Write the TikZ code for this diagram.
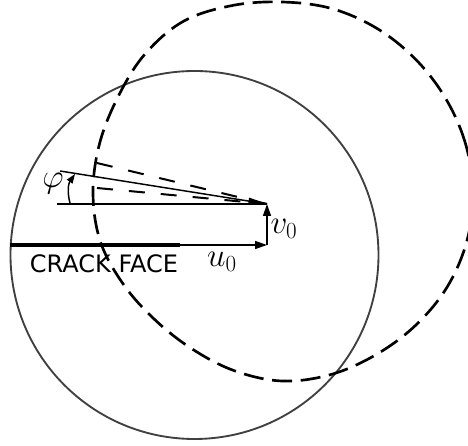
\documentclass[tikz,border=0pt]{standalone}
\usepackage{fontspec}
\setsansfont{DejaVu Sans}
\usetikzlibrary{arrows.meta}

\begin{document}
\begin{tikzpicture}[x=0.75pt, y=0.75pt,
  contour/.style={draw=black!75, line width=1.4pt},
  moved/.style={draw=black, line width=2pt, dash pattern=on 15pt off 6.5pt},
  ray/.style={line width=1.1pt},
  dray/.style={line width=1.5pt, dash pattern=on 12pt off 12pt},
  vec/.style={-{Triangle[length=9pt, width=6pt]}, line width=1.1pt},
  crack/.style={line width=3pt},
  lbl/.style={font=\fontsize{25}{28}\selectfont, inner sep=0pt},
]
  \useasboundingbox (0,0) rectangle (468,446);

  % initial and displaced contours
  \begin{scope}
    \clip (0,0) rectangle (468,446);
    \draw[contour] (194.5,191) circle (138pt);
    \begin{scope}[shift={(282,253)}]
      \draw[moved] plot[smooth cycle, tension=0.6] coordinates {
        (0:191) (15:190) (30:189) (45:189) (60:190) (75:191)
        (90:191) (105:194) (120:198) (135:195) (150:190) (165:189)
        (180:189) (195:188) (210:183) (225:179.5) (240:180) (255:184)
        (270:188) (285:188) (300:187) (315:188) (330:190) (345:191)};
    \end{scope}
  \end{scope}

  % points
  \coordinate (tip) at (267,242);
  \coordinate (base) at (57,242);
  \coordinate (slant) at (60,275);
  \coordinate (up) at (97,283);
  \coordinate (lo) at (97,258);
  \coordinate (corner) at (267,201);
  \coordinate (crackL) at (10,201);
  \coordinate (crackR) at (180,201);
  \coordinate (phiA) at (70,243);
  \coordinate (phiB) at (75,272);

  % rays from the tip
  \draw[ray] (base) -- (tip);
  \draw[dray] (up) -- (tip);
  \draw[dray] (lo) -- (tip);
  \draw[ray, -{Triangle[length=14pt, width=5pt]}] (slant) -- (tip);
  \draw[ray, -{Triangle[length=7pt, width=5pt]}] (phiA) to[bend left=25] (phiB);

  % crack and displacement vectors
  \draw[crack] (crackL) -- (crackR);
  \draw[vec] (crackR) -- (corner);
  \draw[vec] (corner) -- (tip);

  % labels
  \node[lbl] (phi) at (53,262) {$\varphi$};
  \node[lbl] (v0) at (284,217) {$v_0$};
  \node[lbl] (u0) at (222,184) {$u_0$};
  \node[font=\sffamily\fontsize{18}{20}\selectfont, inner sep=0pt] (face) at (104,182) {CRACK FACE};
\end{tikzpicture}
\end{document}
